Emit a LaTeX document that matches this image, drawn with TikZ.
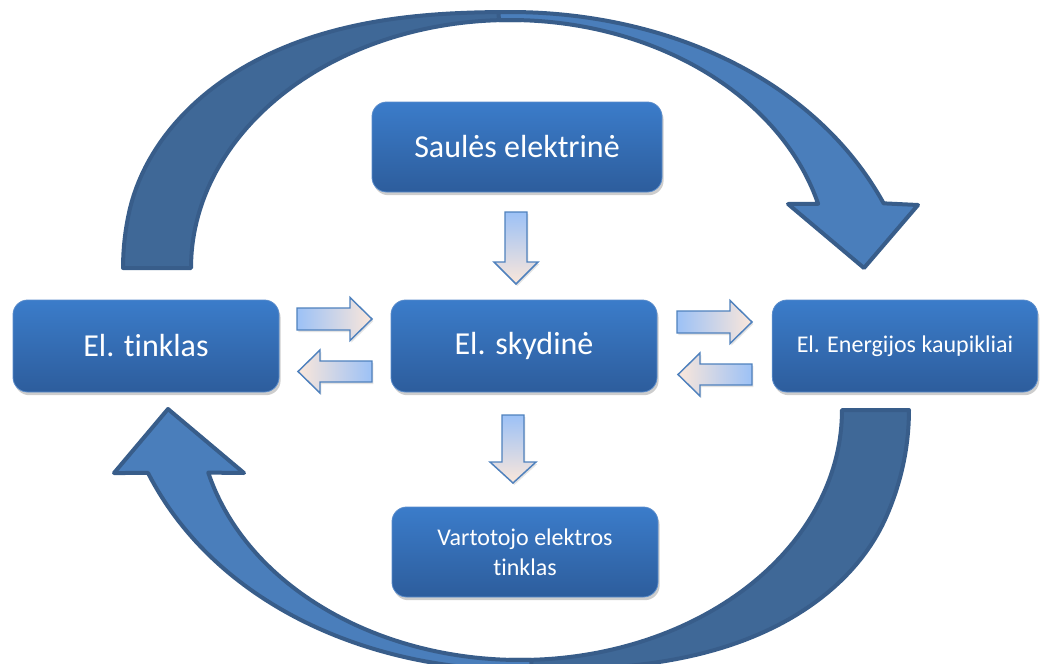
\documentclass[tikz,border=0pt]{standalone}
\usepackage{fontspec}
\setmainfont{Carlito}[Ligatures=NoCommon]
\usetikzlibrary{shadows}
\definecolor{boxtop}{HTML}{3B7CCA}
\definecolor{boxbot}{HTML}{2D5D9C}
\definecolor{boxline}{HTML}{5A8CCB}
\definecolor{arrdark}{HTML}{3F6897}
\definecolor{arrlight}{HTML}{4A7EBB}
\definecolor{arrline}{HTML}{385D8A}
\definecolor{sblue}{HTML}{9CC1F6}
\definecolor{speach}{HTML}{FBE7DA}
\definecolor{sline}{HTML}{4F81BD}
\begin{document}
\begin{tikzpicture}[x=0.75pt,y=-0.75pt,
  declare function={
    clampz(\x)=min(1,max(0,\x));
    sm(\x)=clampz(\x)*clampz(\x)*(3-2*clampz(\x));
    wtd(\t)=8+60*sm((\t-90)/80);
    wtl(\t)=8+55*((90-\t)/78)*((90-\t)/78);
    wbd(\t)=10+57*sm((90-\t)/70);
    wbl(\t)=10+48*((\t-90)/78.2)*((\t-90)/78.2);
  },
  blockbox/.style={rounded corners=11pt, draw=boxline, line width=0.6pt,
    top color=boxtop, bottom color=boxbot, text=white, align=center,
    inner sep=0pt,
    drop shadow={shadow xshift=1.2pt, shadow yshift=-2.4pt, opacity=0.28, fill=black!70}},
  bigtxt/.style={font=\fontsize{24}{29}\selectfont},
  smalltxt/.style={font=\fontsize{18}{22.5}\selectfont},
  bigdark/.style={fill=arrdark, draw=arrline, line width=3pt, line join=round},
  biglight/.style={fill=arrlight, draw=arrline, line width=3pt, line join=round},
  sarrow/.style={draw=sline, line width=1.1pt, line join=miter,
    drop shadow={shadow xshift=1pt, shadow yshift=-1.5pt, opacity=0.18, fill=black!60}},
  sright/.style={sarrow, left color=sblue, right color=speach},
  sleft/.style={sarrow, left color=speach, right color=sblue},
  sdown/.style={sarrow, top color=sblue, bottom color=speach}
]
\useasboundingbox (0,0) rectangle (1040,664);

% big top curved arrow (El. tinklas -> El. Energijos kaupikliai)
\draw[bigdark]
  plot[domain=180:88, samples=70, variable=\t] ({510+(319+wtd(\t))*cos(\t)}, {268-(248+wtd(\t))*sin(\t)})
  -- plot[domain=88:180, samples=70, variable=\t] ({510+319*cos(\t)}, {268-248*sin(\t)}) -- cycle;
\draw[biglight]
  plot[domain=92:12, samples=70, variable=\t] ({510+(319+wtl(\t))*cos(\t)}, {268-(248+wtl(\t))*sin(\t)})
  -- (918,205) -- (864,268) -- (788,204)
  -- plot[domain=15:92, samples=70, variable=\t] ({510+319*cos(\t)}, {268-248*sin(\t)}) -- cycle;

% big bottom curved arrow (El. Energijos kaupikliai -> El. tinklas)
\draw[bigdark]
  plot[domain=0:92, samples=70, variable=\t] ({520+(322+wbd(\t))*cos(\t)}, {410+(250+wbd(\t))*sin(\t)})
  -- plot[domain=92:0, samples=70, variable=\t] ({520+322*cos(\t)}, {410+250*sin(\t)}) -- cycle;
\draw[biglight]
  plot[domain=88:168.2, samples=70, variable=\t] ({520+(322+wbl(\t))*cos(\t)}, {410+(250+wbl(\t))*sin(\t)})
  -- (114,473) -- (168,409) -- (244,473)
  -- plot[domain=165.5:88, samples=70, variable=\t] ({520+322*cos(\t)}, {410+250*sin(\t)}) -- cycle;

% boxes
\node[blockbox, bigtxt, minimum width=217.5pt, minimum height=67.5pt] (sol) at (517,147) {Saulės elektrinė};
\node[blockbox, bigtxt, minimum width=199.5pt, minimum height=69pt] (grid) at (146,346) {El. tinklas};
\node[blockbox, bigtxt, minimum width=199.5pt, minimum height=69pt] (panel) at (524,346) {El. skydinė};
\node[blockbox, smalltxt, minimum width=199pt, minimum height=69pt] (store) at (905,346) {El. Energijos kaupikliai};
\node[blockbox, smalltxt, minimum width=199.5pt, minimum height=67.5pt] (user) at (525,552) {Vartotojo elektros\\tinklas};

% small block arrows
% grid -> panel
\draw[sright] (297,308) -- (350,308) -- (350,297.5) -- (372,319) -- (350,340.5) -- (350,330) -- (297,330) -- cycle;
% panel -> grid
\draw[sleft] (372,361) -- (320,361) -- (320,350) -- (298,371.5) -- (320,393) -- (320,382) -- (372,382) -- cycle;
% panel -> store
\draw[sright] (677,311) -- (730,311) -- (730,300.5) -- (752,322) -- (730,343.5) -- (730,333) -- (677,333) -- cycle;
% store -> panel
\draw[sleft] (752,364) -- (700,364) -- (700,353) -- (678,374.5) -- (700,396) -- (700,385) -- (752,385) -- cycle;
% sol -> panel
\draw[sdown] (505,212) -- (505,262) -- (494,262) -- (516,284) -- (538,262) -- (527,262) -- (527,212) -- cycle;
% panel -> user
\draw[sdown] (502,415) -- (502,462) -- (490,462) -- (513,483) -- (536,462) -- (524,462) -- (524,415) -- cycle;
\end{tikzpicture}
\end{document}
